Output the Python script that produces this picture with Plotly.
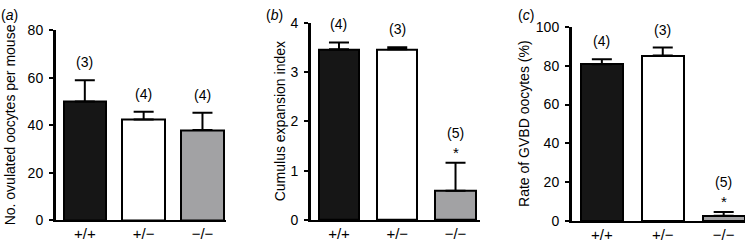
import plotly.graph_objects as go

W, H = 754, 246

genotypes = ["+/+", "+/−", "−/−"]
colors = ["#161616", "#ffffff", "#a2a2a4"]

ovulated = [50, 42.5, 38]
ovulated_err = [9, 3.2, 7.3]
ovulated_n = ["(3)", "(4)", "(4)"]

cumulus = [3.46, 3.46, 0.59]
cumulus_err = [0.14, 0.04, 0.57]
cumulus_n = ["(4)", "(3)", "(5)"]

gvbd = [80.8, 85.3, 2.6]
gvbd_err = [2.5, 4.1, 2.0]
gvbd_n = ["(4)", "(3)", "(5)"]

panels = [
    dict(vals=ovulated, err=ovulated_err, n=ovulated_n, star=[False, False, False],
         ymax=80, dtick=20, title="No. ovulated oocytes per mouse", letter="a",
         xpx=(56, 226), ypx=(24, 227), xr=[-0.49, 2.4], bw=0.72,
         title_x=10, letter_x=9),
    dict(vals=cumulus, err=cumulus_err, n=cumulus_n, star=[False, False, True],
         ymax=4, dtick=1, title="Cumulus expansion index", letter="b",
         xpx=(311, 480), ypx=(15.7, 226.7), xr=[-0.48, 2.42], bw=0.69,
         title_x=280, letter_x=274),
    dict(vals=gvbd, err=gvbd_err, n=gvbd_n, star=[False, False, True],
         ymax=100, dtick=20, title="Rate of GVBD oocytes (%)", letter="c",
         xpx=(572, 745), ypx=(20.3, 227.7), xr=[-0.49, 2.35], bw=0.69,
         title_x=524, letter_x=526),
]

fig = go.Figure()
annotations = []
FONT = "Liberation Sans"

for i, p in enumerate(panels, start=1):
    xa = "x" if i == 1 else f"x{i}"
    ya = "y" if i == 1 else f"y{i}"
    xs = [0, 1, 2]
    fig.add_trace(go.Bar(
        x=xs, y=p["vals"], width=p["bw"],
        marker=dict(color=colors, line=dict(color="black", width=2)),
        error_y=dict(type="data", symmetric=False, array=p["err"],
                     arrayminus=[0, 0, 0], color="black", thickness=2, width=10),
        xaxis=xa, yaxis=ya, showlegend=False, hoverinfo="skip",
    ))
    x0, x1 = p["xpx"]
    ytop, ybot = p["ypx"]
    layout_x = dict(
        domain=[x0 / W, x1 / W], range=p["xr"], anchor=ya,
        tickvals=xs, ticktext=genotypes, showline=True, linecolor="black",
        linewidth=2, ticks="", showgrid=False, zeroline=False,
        tickfont=dict(family=FONT, size=15, color="black"),
        ticklabelstandoff=-1, fixedrange=True,
    )
    layout_y = dict(
        domain=[(H - ybot) / H, (H - ytop) / H],
        range=[0, p["ymax"]], dtick=p["dtick"], anchor=xa,
        showline=True, linecolor="black", linewidth=3, ticks="outside",
        ticklen=4, tickwidth=2, tickcolor="black", showgrid=False,
        zeroline=False, tickfont=dict(family=FONT, size=14, color="black"),
        ticklabelstandoff=3, fixedrange=True,
    )
    fig.update_layout(**{("xaxis" if i == 1 else f"xaxis{i}"): layout_x,
                         ("yaxis" if i == 1 else f"yaxis{i}"): layout_y})
    for j in range(3):
        top = p["vals"][j] + p["err"][j]
        annotations.append(dict(
            x=j, y=top, xref=xa, yref=ya, text=p["n"][j], showarrow=False,
            yanchor="bottom", yshift=(20 if p["star"][j] else 8),
            font=dict(family=FONT, size=14, color="black"),
        ))
        if p["star"][j]:
            annotations.append(dict(
                x=j, y=top, xref=xa, yref=ya, text="*", showarrow=False,
                yanchor="bottom", yshift=0,
                font=dict(family=FONT, size=15, color="black"),
            ))
    annotations.append(dict(
        x=p["title_x"] / W, y=(H - (ytop + ybot) / 2) / H, xref="paper", yref="paper",
        text=p["title"], textangle=-90, showarrow=False,
        xanchor="center", yanchor="middle",
        font=dict(family=FONT, size=14, color="black"),
    ))
    annotations.append(dict(
        x=p["letter_x"] / W, y=(H - 8) / H, xref="paper", yref="paper",
        text=f"(<i>{p['letter']}</i>)", showarrow=False,
        xanchor="center", yanchor="middle",
        font=dict(family=FONT, size=14, color="black"),
    ))

fig.update_layout(
    width=W, height=H, margin=dict(l=0, r=0, t=0, b=0),
    paper_bgcolor="white", plot_bgcolor="white",
    annotations=annotations, bargap=0,
)

fig.write_html("out.html", config={"displayModeBar": False},
               post_script="document.body.style.margin='0';document.body.style.overflow='hidden';")
